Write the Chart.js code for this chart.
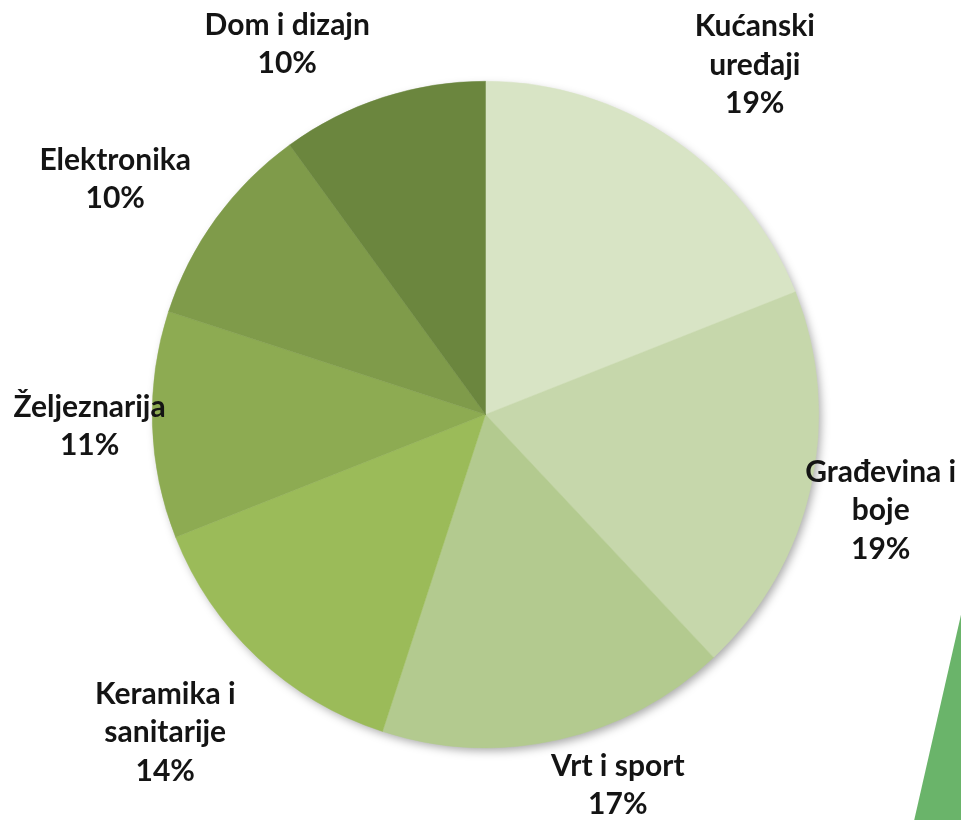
<!DOCTYPE html>
<html>
<head>
<meta charset="utf-8">
<script src="https://cdn.jsdelivr.net/npm/chart.js@4/dist/chart.umd.min.js"></script>
<style>
  html, body { margin: 0; padding: 0; background: #ffffff; }
  #wrap { width: 961px; height: 820px; position: relative; }
</style>
</head>
<body>
<div id="wrap"><canvas id="pieChart" width="961" height="820"></canvas></div>
<script>
const categories = ['Kućanski uređaji', 'Građevina i boje', 'Vrt i sport', 'Keramika i sanitarije', 'Željeznarija', 'Elektronika', 'Dom i dizajn'];
const shares = [19, 19, 17, 14, 11, 10, 10];
const labelLines = [
    ['Kućanski', 'uređaji'],
    ['Građevina i', 'boje'],
    ['Vrt i sport'],
    ['Keramika i', 'sanitarije'],
    ['Željeznarija'],
    ['Elektronika'],
    ['Dom i dizajn']
];
const sliceColors = ['#d8e4c5', '#c6d7ab', '#b3ca8f', '#9bbb59', '#8dab52', '#7f9b4a', '#6b863e'];

// label block centres, in units of the pie radius, relative to the pie centre
const labelSpots = [
    [0.808, -1.048],
    [1.186, 0.288],
    [0.397, 1.113],
    [-0.961, 0.954],
    [-1.188, 0.035],
    [-1.111, -0.706],
    [-0.595, -1.111]
];

const decoration = {
    id: 'decoration',
    beforeDraw(chart) {
        const c = chart.ctx;
        c.save();
        c.fillStyle = '#6ab46a';
        c.beginPath();
        c.moveTo(963, 606);
        c.lineTo(914, 821);
        c.lineTo(962, 821);
        c.closePath();
        c.fill();
        c.restore();
    }
};

// one soft shadow under the whole pie, not under every slice
const pieShadow = {
    id: 'pieShadow',
    beforeDatasetsDraw(chart) {
        const arc = chart.getDatasetMeta(0).data[0];
        if (!arc) return;
        const c = chart.ctx;
        c.save();
        c.shadowColor = 'rgba(0, 0, 0, 0.35)';
        c.shadowBlur = 10;
        c.shadowOffsetX = 3;
        c.shadowOffsetY = 4;
        c.fillStyle = '#ffffff';
        c.beginPath();
        c.arc(arc.x, arc.y, arc.outerRadius - 1, 0, Math.PI * 2);
        c.fill();
        c.restore();
    }
};

const outsideLabels = {
    id: 'outsideLabels',
    afterDatasetsDraw(chart) {
        const c = chart.ctx;
        const arcs = chart.getDatasetMeta(0).data;
        const lineH = 38.5;
        c.save();
        c.fillStyle = '#141414';
        c.font = 'bold 30px Lato';
        c.textAlign = 'center';
        c.textBaseline = 'middle';
        arcs.forEach((arc, i) => {
            const r = arc.outerRadius;
            const cx = arc.x + labelSpots[i][0] * r;
            const cy = arc.y + labelSpots[i][1] * r;
            const lines = labelLines[i].concat([shares[i] + '%']);
            const top = cy - (lines.length - 1) * lineH / 2;
            lines.forEach((t, k) => c.fillText(t, cx, top + k * lineH));
        });
        c.restore();
    }
};

const ctx = document.getElementById('pieChart').getContext('2d');
new Chart(ctx, {
    type: 'pie',
    data: {
        labels: categories,
        datasets: [{
            data: shares,
            backgroundColor: sliceColors,
            borderColor: sliceColors,
            borderWidth: 0.5
        }]
    },
    options: {
        responsive: false,
        animation: false,
        layout: { padding: { top: 81, bottom: 72, left: 10, right: 0 } },
        plugins: {
            legend: { display: false },
            tooltip: { enabled: false }
        }
    },
    plugins: [decoration, pieShadow, outsideLabels]
});
</script>
</body>
</html>
